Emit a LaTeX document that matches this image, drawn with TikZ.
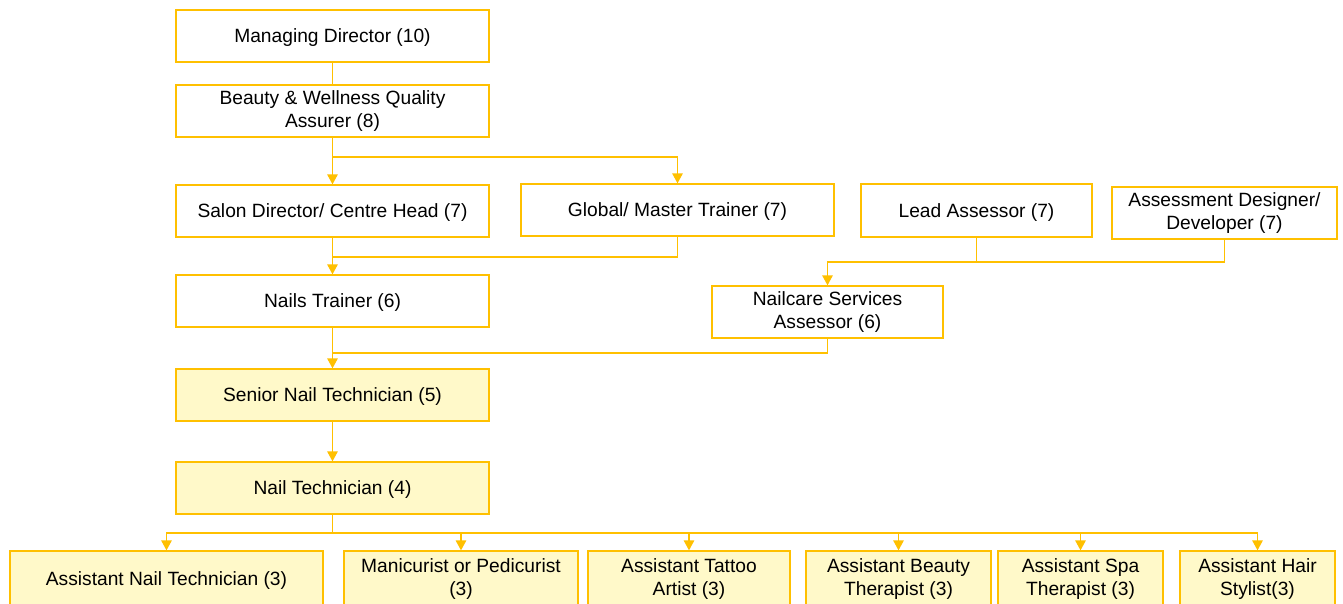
\documentclass[tikz,border=0pt]{standalone}
\usepackage{fontspec}
\setmainfont{Liberation Sans}
\usetikzlibrary{arrows.meta}
\definecolor{gold}{HTML}{FFC000}
\definecolor{paleyel}{HTML}{FFF9C9}
\begin{document}
\begin{tikzpicture}[x=1pt,y=-1pt,
  box/.style={draw=gold,line width=1.3pt,inner sep=0pt,align=center,
    execute at begin node={\rule{0pt}{17pt}},
    font=\fontsize{19.2}{22.5}\selectfont},
  wbox/.style={box,fill=white},
  ybox/.style={box,fill=paleyel},
  conn/.style={draw=gold,line width=1.3pt},
  arr/.style={conn,-{Triangle[width=10.5pt,length=10pt]}}]
\useasboundingbox (0,0) rectangle (1343,603);
\fill[white] (0,0) rectangle (1343,603);
% nodes
\node[wbox,minimum width=313,minimum height=52] (md) at (332.5,36) {Managing Director (10)};
\node[wbox,minimum width=313,minimum height=52] (bw) at (332.5,111) {Beauty \& Wellness Quality\\Assurer (8)};
\node[wbox,minimum width=313,minimum height=52] (sd) at (332.5,211) {Salon Director/ Centre Head (7)};
\node[wbox,minimum width=313,minimum height=52] (gm) at (677.5,210) {Global/ Master Trainer (7)};
\node[wbox,minimum width=231,minimum height=53] (la) at (976.5,210.5) {Lead Assessor (7)};
\node[wbox,minimum width=225,minimum height=52] (ad) at (1224.5,213) {Assessment Designer/\\Developer (7)};
\node[wbox,minimum width=313,minimum height=52] (nt) at (332.5,301) {Nails Trainer (6)};
\node[wbox,minimum width=231,minimum height=52] (ns) at (827.5,312) {Nailcare Services\\Assessor (6)};
\node[ybox,minimum width=313,minimum height=52] (snt) at (332.5,395) {Senior Nail Technician (5)};
\node[ybox,minimum width=313,minimum height=52] (ntc) at (332.5,488) {Nail Technician (4)};
\node[ybox,minimum width=313,minimum height=56] (b1) at (166.5,579) {Assistant Nail Technician (3)};
\node[ybox,minimum width=234,minimum height=56] (b2) at (461,579) {Manicurist or Pedicurist\\(3)};
\node[ybox,minimum width=202,minimum height=56] (b3) at (689,579) {Assistant Tattoo\\Artist (3)};
\node[ybox,minimum width=185,minimum height=56] (b4) at (898.5,579) {Assistant Beauty\\Therapist (3)};
\node[ybox,minimum width=165,minimum height=56] (b5) at (1080.5,579) {Assistant Spa\\Therapist (3)};
\node[ybox,minimum width=155,minimum height=56] (b6) at (1257.5,579) {Assistant Hair\\Stylist(3)};
% junction coordinates
\coordinate (j1) at (332.5,157);
\coordinate (j2) at (332.5,257);
\coordinate (j3) at (827.5,262);
\coordinate (j4) at (332.5,353);
\coordinate (j5) at (332.5,533);
% connectors
\draw[conn] (md) -- (bw);
\draw[arr] (bw.south) -- (sd.north);
\draw[arr] (j1) -| (gm.north);
\draw[arr] (sd.south) -- (nt.north);
\draw[conn] (gm.south) |- (j2);
\draw[conn] (la.south) |- (j3);
\draw[arr] (ad.south) |- (j3) -- (ns.north);
\draw[arr] (nt.south) -- (snt.north);
\draw[conn] (ns.south) |- (j4);
\draw[arr] (snt.south) -- (ntc.north);
\draw[conn] (ntc.south) -- (j5);
\foreach \b in {b1,b2,b3,b4,b5,b6}{
  \draw[arr] (j5) -| (\b.north);
}
\end{tikzpicture}
\end{document}
